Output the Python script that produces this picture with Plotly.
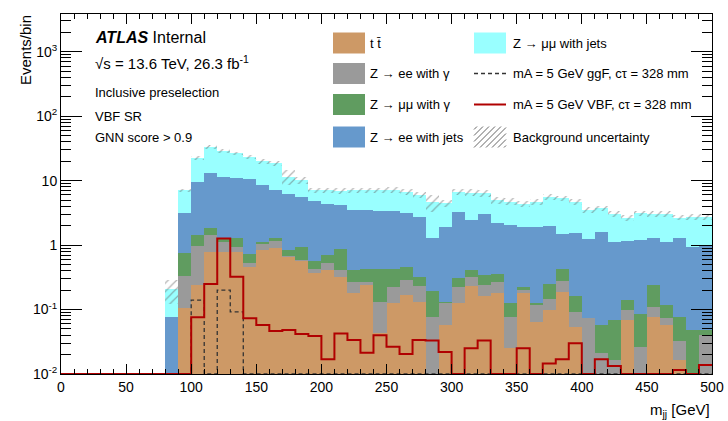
import numpy as np
import plotly.graph_objects as go

# ---------------- data (10 GeV bins, 0-500 GeV) ----------------
bin_edges = [0, 10, 20, 30, 40, 50, 60, 70, 80, 90, 100, 110, 120, 130, 140, 150, 160, 170, 180, 190,
             200, 210, 220, 230, 240, 250, 260, 270, 280, 290, 300, 310, 320, 330, 340, 350, 360, 370,
             380, 390, 400, 410, 420, 430, 440, 450, 460, 470, 480, 490, 500]

ttbar = [0, 0, 0, 0, 0, 0, 0, 0, 0,
         0.104, 0.237, 0.79, 0.79, 0.79, 0.46, 0.84, 0.89, 0.66, 0.57,
         0.37, 0.41, 0.32, 0.18, 0.24, 0.043, 0.125, 0.17, 0.13, 0,
         0.057, 0.125, 0.23, 0.16, 0.18, 0.025, 0.178, 0.065, 0.098, 0.19,
         0.054, 0, 0, 0, 0.069, 0, 0.077, 0.057, 0.0165, 0,
         0]
zee_gamma = [0, 0, 0, 0, 0, 0, 0, 0, 0,
             0.231, 0.72, 0.64, 0.34, 0.15, 0.06, 0.22, 0.28, 0.01, 0.02,
             0.05, 0.12, 0.09, 0.09, 0.03, 0.09, 0.10, 0.12, 0.10, 0.077,
             0.07, 0.10, 0.09, 0.08, 0.09, 0.052, 0.022, 0.053, 0.05, 0.09,
             0.036, 0.073, 0.021, 0.0165, 0.029, 0.0265, 0.034, 0.016, 0.016, 0,
             0.040]
zmm_gamma = [0, 0, 0, 0, 0, 0, 0, 0, 0,
             0.425, 0.47, 0.43, 0.18, 0.37, 0.20, 0.07, 0.14, 0.17, 0.35,
             0.15, 0.17, 0.45, 0.14, 0.16, 0.30, 0.20, 0.16, 0.09, 0.12,
             0.005, 0.08, 0.09, 0.10, 0.08, 0.048, 0.026, 0.007, 0.10, 0.14,
             0.07, 0, 0.036, 0.052, 0.042, 0.06, 0.13, 0.045, 0.043, 0.048,
             0.008]
zee_jets = [0, 0, 0, 0, 0, 0, 0, 0, 0.077,
            2.41, 8.2, 11.5, 10.2, 9.8, 9.7, 7.4, 5.8, 5.4, 4.7,
            4.2, 3.7, 3.3, 3.1, 3.1, 2.9, 2.9, 2.75, 2.4, 1.07,
            1.79, 3.0, 2.0, 2.7, 1.85, 1.9, 1.65, 1.8, 1.7, 1.08,
            1.36, 1.15, 1.54, 1.06, 1.03, 1.13, 1.03, 1.01, 1.2, 0.89,
            0.95]
zmm_jets = [0, 0, 0, 0, 0, 0, 0, 0, 0.129,
            3.95, 13.0, 19.6, 17.5, 15.3, 13.0, 11.5, 11.4, 5.3, 4.6,
            2.3, 2.7, 2.8, 3.6, 3.5, 3.7, 3.8, 3.5, 3.25, 3.4,
            2.5, 3.4, 4.1, 3.3, 2.8, 2.7, 2.5, 2.8, 3.6, 3.8,
            3.2, 2.3, 2.1, 1.9, 1.5, 1.9, 1.8, 1.9, 1.4, 1.8,
            1.75]
bkg_rel_unc = [0, 0, 0, 0, 0, 0, 0, 0, 0.40,
               0.06, 0.07, 0.07, 0.07, 0.07, 0.08, 0.08, 0.08, 0.25, 0.12,
               0.10, 0.10, 0.10, 0.10, 0.10, 0.10, 0.10, 0.10, 0.10, 0.30,
               0.12, 0.12, 0.12, 0.12, 0.12, 0.12, 0.10, 0.10, 0.10, 0.10,
               0.10, 0.10, 0.10, 0.10, 0.10, 0.10, 0.10, 0.10, 0.10, 0.10,
               0.10]
sig_vbf = [0, 0, 0, 0, 0, 0, 0, 0, 0, 0,
           0.0757, 0.248, 1.27, 0.323, 0.073, 0.0575, 0.0465, 0.048, 0.0417, 0.039,
           0.0169, 0.0426, 0.0337, 0.0214, 0.040, 0.0265, 0.0204, 0.0337, 0.033, 0.022,
           0, 0.025, 0.033, 0, 0, 0.025, 0, 0.0146, 0.0169, 0.0299,
           0, 0.0169, 0.0133, 0, 0, 0, 0, 0.0115, 0, 0.0138]
sig_ggf = [0, 0, 0, 0, 0, 0, 0, 0, 0, 0,
           0.14, 0, 0.20, 0.092, 0, 0, 0, 0, 0, 0,
           0, 0, 0, 0, 0, 0, 0, 0, 0, 0,
           0, 0, 0, 0, 0, 0, 0, 0, 0, 0,
           0, 0, 0, 0, 0, 0, 0, 0, 0, 0]

x_ticks = [0, 50, 100, 150, 200, 250, 300, 350, 400, 450, 500]
y_ticks = [0.01, 0.1, 1, 10, 100, 1000]
y_ticktext = ["10<sup>-2</sup>", "10<sup>-1</sup>", "1", "10", "10<sup>2</sup>", "10<sup>3</sup>"]

labels = {
    "tt": "t t\u0304",
    "zeeg": "Z \u2192 ee with \u03b3",
    "zmmg": "Z \u2192 \u03bc\u03bc with \u03b3",
    "zeej": "Z \u2192 ee with jets",
    "zmmj": "Z \u2192 \u03bc\u03bc with jets",
    "ggf": "mA = 5 GeV ggF, c\u03c4 = 328 mm",
    "vbf": "mA = 5 GeV VBF, c\u03c4 = 328 mm",
    "unc": "Background uncertainty",
}

# ---------------- style ----------------
FONT = "Liberation Sans, Arial, Helvetica, sans-serif"
COL = {"tt": "#cd9966", "zeeg": "#9a9a9a", "zmmg": "#609c60", "zeej": "#6699cc",
       "zmmj": "#99ffff", "vbf": "#b00000", "ggf": "#333333"}
W, H = 728, 421
ML, MR, MT, MB = 61, 16, 14, 47
YLOG = [-2, 3.585]
YMIN = 10 ** YLOG[0]
FLOOR = 10 ** (YLOG[0] - 3)

edges = np.array(bin_edges, dtype=float)
centers = 0.5 * (edges[:-1] + edges[1:])
widths = np.diff(edges)

fig = go.Figure()

stack = [("tt", ttbar), ("zeeg", zee_gamma), ("zmmg", zmm_gamma), ("zeej", zee_jets), ("zmmj", zmm_jets)]
cum = np.zeros(len(centers))
for key, vals in stack:
    v = np.array(vals, dtype=float)
    fig.add_trace(go.Bar(x=centers, y=v, base=np.maximum(cum, FLOOR), width=widths,
                         marker=dict(color=COL[key], line=dict(width=0)),
                         name=labels[key], showlegend=False, hoverinfo="skip"))
    cum = cum + v

err = cum * np.array(bkg_rel_unc)
mask = cum > 0
fig.add_trace(go.Bar(x=centers[mask], y=2 * err[mask], base=np.maximum(cum[mask] - err[mask], FLOOR),
                     width=widths[mask],
                     marker=dict(color="rgba(0,0,0,0)", line=dict(width=0),
                                 pattern=dict(shape="/", fgcolor="#666666", bgcolor="rgba(0,0,0,0)",
                                              size=6, solidity=0.2, fillmode="overlay")),
                     name=labels["unc"], showlegend=False, hoverinfo="skip"))


def step(vals):
    v = np.clip(np.array(vals, dtype=float), YMIN, None)
    return np.append(v, v[-1])


fig.add_trace(go.Scatter(x=edges, y=step(sig_ggf), mode="lines", line=dict(color=COL["ggf"], width=1.3, dash="4px,3px", shape="hv"),
                         name=labels["ggf"], showlegend=False))
fig.add_trace(go.Scatter(x=edges, y=step(sig_vbf), mode="lines", line=dict(color=COL["vbf"], width=2, shape="hv"),
                         name=labels["vbf"], showlegend=False))

# ---------------- layout helpers (pixel -> paper) ----------------
PW, PH = W - ML - MR, H - MT - MB


def px(x):
    return (x - ML) / PW


def py(y):
    return (H - MB - y) / PH


shapes, annos = [], []

# legend (manual, ROOT style)
rows = [43, 73.5, 104.5, 137]
c1_box, c2_box = (333, 365), (474, 506)
c1_txt, c2_txt = 368, 510.5
bh = 10.5
legend_items = [
    (0, 0, "box", "tt"), (0, 1, "box", "zeeg"), (0, 2, "box", "zmmg"), (0, 3, "box", "zeej"),
    (1, 0, "box", "zmmj"), (1, 1, "dash", "ggf"), (1, 2, "line", "vbf"), (1, 3, "hatch", "unc"),
]
for col, row, kind, key in legend_items:
    bx = c1_box if col == 0 else c2_box
    tx = c1_txt if col == 0 else c2_txt
    yc = rows[row]
    if kind == "box":
        shapes.append(dict(type="rect", xref="paper", yref="paper", x0=px(bx[0]), x1=px(bx[1]),
                           y0=py(yc + bh), y1=py(yc - bh), fillcolor=COL[key], line=dict(width=0), layer="above"))
    elif kind in ("dash", "line"):
        shapes.append(dict(type="line", xref="paper", yref="paper", x0=px(bx[0]), x1=px(bx[1]),
                           y0=py(yc), y1=py(yc),
                           line=dict(color=COL[key], width=1.3 if kind == "dash" else 2,
                                     dash="4px,3px" if kind == "dash" else "solid"), layer="above"))
    else:
        x0, x1, y0, y1 = bx[0], bx[1], yc - bh, yc + bh
        c = x0 + y0 + 3
        while c < x1 + y1:
            pa, pb = max(x0, c - y1), min(x1, c - y0)
            if pb > pa:
                shapes.append(dict(type="line", xref="paper", yref="paper", x0=px(pa), y0=py(c - pa),
                                   x1=px(pb), y1=py(c - pb), line=dict(color="#666666", width=1), layer="above"))
            c += 6
    annos.append(dict(text=labels[key], x=px(tx), y=py(yc), xref="paper", yref="paper", xanchor="left",
                      yanchor="middle", showarrow=False, font=dict(size=13, color="black", family=FONT)))

# ATLAS labels
annos.append(dict(text="<b><i>ATLAS</i></b> Internal", x=px(93), y=py(38), xref="paper", yref="paper",
                  xanchor="left", yanchor="middle", showarrow=False, font=dict(size=16, color="black", family=FONT)))
annos.append(dict(text="\u221as = 13.6 TeV, 26.3 fb<sup>-1</sup>", x=px(93), y=py(63), xref="paper", yref="paper",
                  xanchor="left", yanchor="middle", showarrow=False, font=dict(size=15, color="black", family=FONT)))
for txt, yy in [("Inclusive preselection", 92), ("VBF SR", 116), ("GNN score > 0.9", 137)]:
    annos.append(dict(text=txt, x=px(93), y=py(yy), xref="paper", yref="paper", xanchor="left",
                      yanchor="middle", showarrow=False, font=dict(size=13, color="black", family=FONT)))

# axis titles (ROOT style, aligned to the end)
annos.append(dict(text="m<sub>jj</sub> [GeV]", x=px(712), y=py(410), xref="paper", yref="paper",
                  xanchor="right", yanchor="middle", showarrow=False, font=dict(size=15, color="black", family=FONT)))
annos.append(dict(text="Events/bin", x=px(25), y=py(13), xref="paper", yref="paper", textangle=-90,
                  xanchor="center", yanchor="top", showarrow=False, font=dict(size=15, color="black", family=FONT)))

minor_y = []
for d in range(-2, 4):
    for k in range(2, 10):
        minor_y.append(k * 10 ** d)

fig.update_layout(
    template="none",
    width=W, height=H, margin=dict(l=ML, r=MR, t=MT, b=MB, pad=0, autoexpand=False),
    paper_bgcolor="white", plot_bgcolor="white",
    barmode="overlay", bargap=0, showlegend=False,
    font=dict(family=FONT, size=14, color="black"),
    shapes=shapes, annotations=annos,
    xaxis=dict(range=[0, 500], tickmode="array", tickvals=x_ticks, ticks="inside", ticklen=10,
               tickcolor="black", tickwidth=1, showline=True, linecolor="black", linewidth=1,
               mirror="ticks", showgrid=False, zeroline=False, automargin=False, tickfont=dict(size=14),
               minor=dict(ticks="inside", ticklen=5, dtick=10, tick0=0, tickcolor="black", showgrid=False)),
    yaxis=dict(type="log", range=YLOG, tickmode="array", tickvals=y_ticks, ticktext=y_ticktext,
               ticks="inside", ticklen=21, tickcolor="black", tickwidth=1, showline=True,
               linecolor="black", linewidth=1, mirror="ticks", showgrid=False, zeroline=False,
               automargin=False, tickfont=dict(size=14),
               minor=dict(tickmode="array", tickvals=minor_y, ticks="inside", ticklen=10,
                          tickcolor="black", showgrid=False)),
)

fig.write_html("out.html")
